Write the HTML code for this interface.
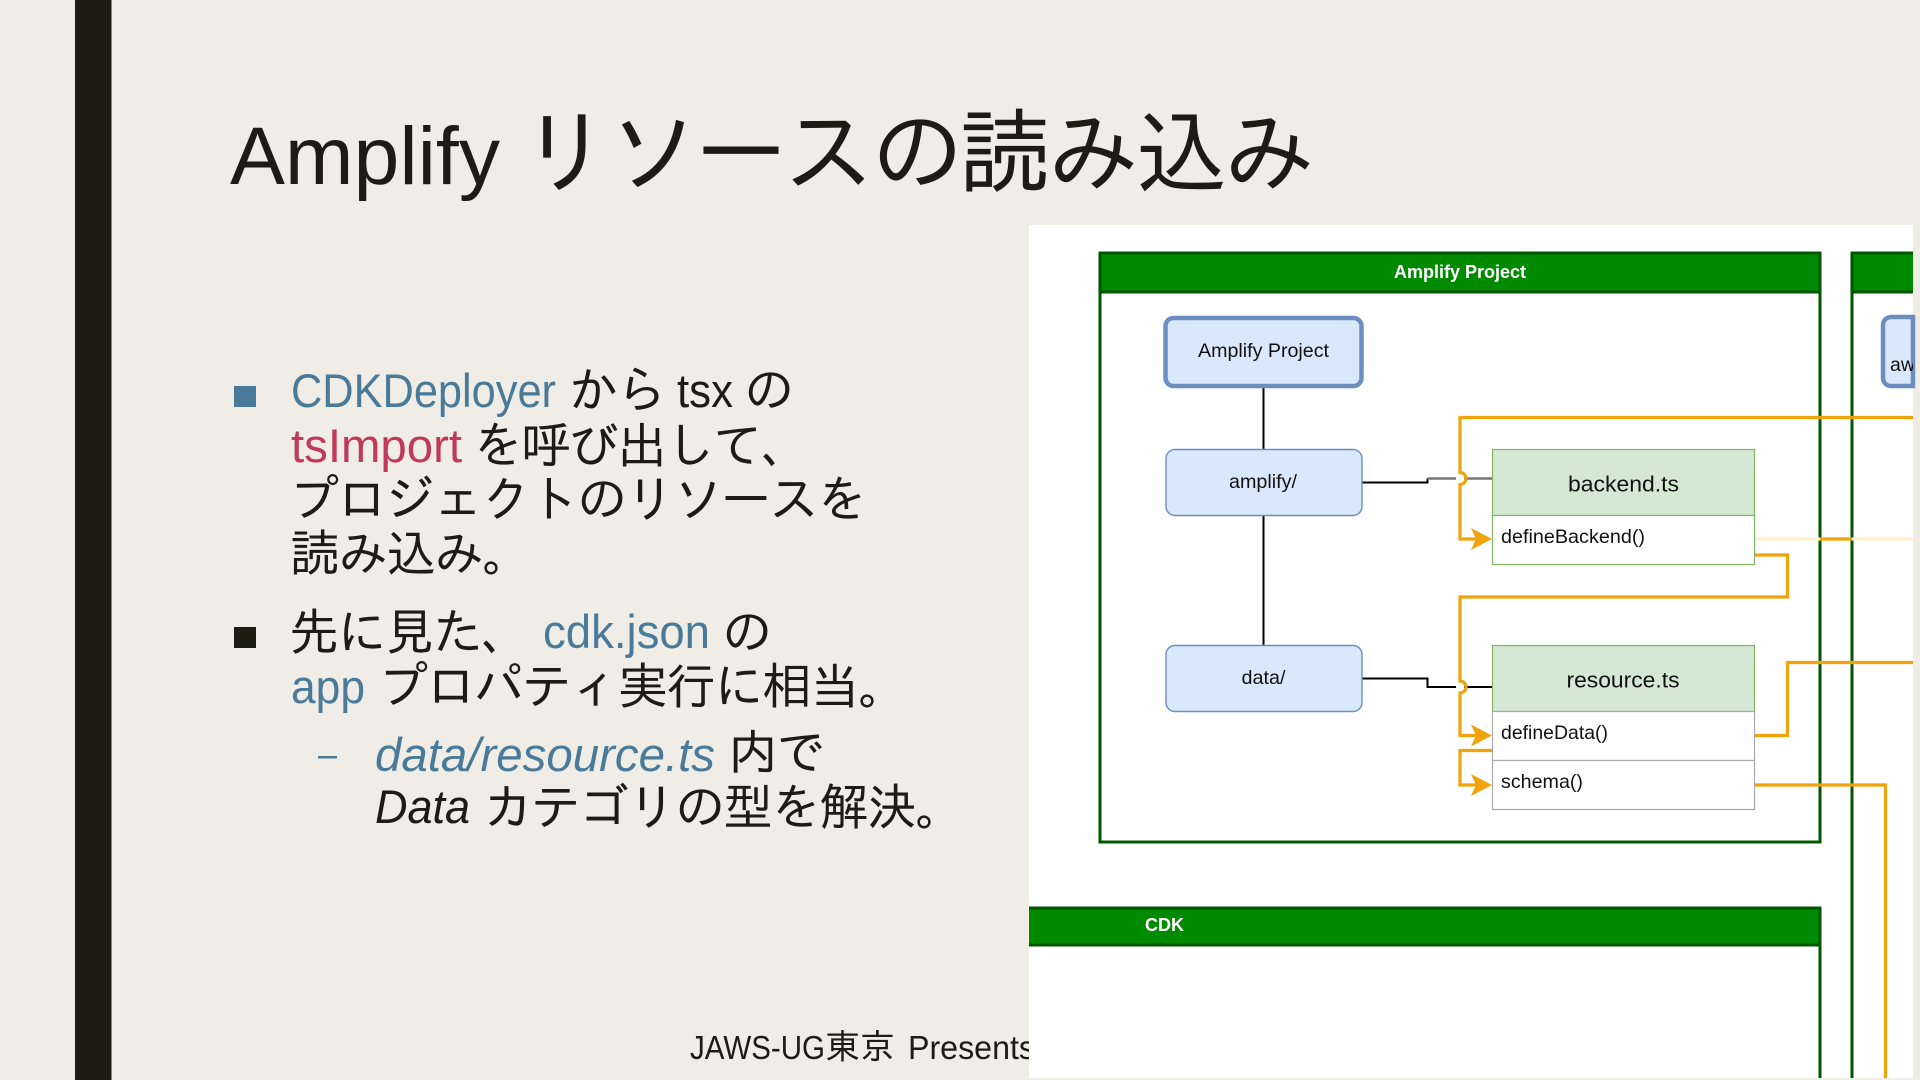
<!DOCTYPE html>
<html lang="ja">
<head>
<meta charset="utf-8">
<title>Amplify リソースの読み込み</title>
<style>
html,body{margin:0;padding:0;background:#efede6;width:1920px;height:1080px;overflow:hidden}
svg{display:block}
.s{font-family:"IPAGothic","Noto Sans CJK JP",sans-serif;fill:#1d1c12;font-size:50px;letter-spacing:-2px}
.l{font-family:"Liberation Sans","Noto Sans CJK JP",sans-serif;fill:#1d1c12}
.b{fill:#4a7a9a}
.r{fill:#c03a57}
.i{font-style:italic}
.d{font-family:"Liberation Sans",sans-serif;fill:#111}
.h{font-family:"Liberation Sans",sans-serif;font-weight:bold;fill:#fff}
</style>
</head>
<body>
<svg width="1920" height="1080" viewBox="0 0 1920 1080" xmlns="http://www.w3.org/2000/svg">
<rect width="1920" height="1080" fill="#efede6"/>
<rect x="75" y="0" width="36.5" height="1080" fill="#1d1c10"/>

<!-- title -->
<text class="l" x="230" y="184" font-size="82" textLength="270" lengthAdjust="spacingAndGlyphs">Amplify</text>
<text class="s" x="519" y="185" style="font-size:92px;letter-spacing:-4px">リソースの読み込み</text>

<!-- body -->
<rect x="234" y="386" width="22" height="21" fill="#4a7a9a"/>
<text class="l b" x="291" y="407" font-size="47" textLength="265" lengthAdjust="spacingAndGlyphs">CDKDeployer</text>
<text class="s" x="568" y="408">から</text>
<text class="l" x="677" y="407" font-size="47" textLength="56" lengthAdjust="spacingAndGlyphs">tsx</text>
<text class="s" x="744" y="408">の</text>

<text class="l r" x="291" y="462" font-size="47" textLength="171" lengthAdjust="spacingAndGlyphs">tsImport</text>
<text class="s" x="473" y="463">を呼び出して、</text>
<text class="s" x="289" y="517">プロジェクトのリソースを</text>
<text class="s" x="290" y="571">読み込み。</text>

<rect x="234" y="627" width="22" height="21" fill="#1d1c10"/>
<text class="s" x="289" y="650">先に見た、</text>
<text class="l b" x="543" y="648" font-size="47" textLength="167" lengthAdjust="spacingAndGlyphs">cdk.json</text>
<text class="s" x="722" y="650">の</text>
<text class="l b" x="291" y="703" font-size="47" textLength="74" lengthAdjust="spacingAndGlyphs">app</text>
<text class="s" x="378" y="704">プロパティ実行に相当。</text>

<rect x="318" y="756" width="19" height="2.5" fill="#4a7a9a"/>
<text class="l b i" x="375" y="771" font-size="47" textLength="340" lengthAdjust="spacingAndGlyphs">data/resource.ts</text>
<text class="s" x="728" y="770">内で</text>
<text class="l i" x="375" y="823" font-size="47" textLength="95" lengthAdjust="spacingAndGlyphs">Data</text>
<text class="s" x="483" y="825">カテゴリの型を解決。</text>

<!-- footer -->
<text class="l" x="690" y="1059" font-size="33" textLength="135" lengthAdjust="spacingAndGlyphs">JAWS-UG</text>
<text class="s" x="825" y="1059" style="font-size:35px;letter-spacing:0">東京</text>
<text class="l" x="908" y="1059" font-size="33" textLength="127" lengthAdjust="spacingAndGlyphs">Presents</text>

<!-- diagram panel -->
<rect x="1029" y="225" width="884" height="853" fill="#fff"/>
<!-- containers -->
<rect x="1100" y="253" width="720" height="589" fill="#fff" stroke="#005700" stroke-width="3"/>
<rect x="1100" y="253" width="720" height="39" fill="#008a00" stroke="#005700" stroke-width="3"/>
<path d="M1913 253H1852V1078" fill="none" stroke="#005700" stroke-width="3"/>
<path d="M1853.5 254.5H1913V291H1853.5Z" fill="#008a00"/>
<path d="M1852 292H1913" stroke="#005700" stroke-width="3"/>
<path d="M1029 908H1820V1078" fill="none" stroke="#005700" stroke-width="3"/>
<path d="M1029 909.5H1818.5V944H1029Z" fill="#008a00"/>
<path d="M1029 945H1820" stroke="#005700" stroke-width="3"/>

<text class="h" x="1394" y="278" font-size="18" textLength="132" lengthAdjust="spacingAndGlyphs">Amplify Project</text>
<text class="h" x="1145" y="931" font-size="18" textLength="39" lengthAdjust="spacingAndGlyphs">CDK</text>

<!-- black connectors -->
<path d="M1263.5 387V449M1263.5 515V645" fill="none" stroke="#000" stroke-width="2"/>
<path d="M1362 482.5H1427.5V478.5" fill="none" stroke="#000" stroke-width="2"/>
<path d="M1427.5 478.5H1456M1464 478.5H1492" fill="none" stroke="#777" stroke-width="2.4"/>
<path d="M1362 678.5H1427.5V687H1456M1464 687H1492" fill="none" stroke="#000" stroke-width="2"/>

<!-- nodes -->
<rect x="1165.5" y="318" width="196" height="68" rx="8" fill="#dae8fc" stroke="#6c8ebf" stroke-width="4.5"/>
<rect x="1166" y="449.5" width="196" height="66" rx="9" fill="#dae8fc" stroke="#6c8ebf" stroke-width="1.4"/>
<rect x="1166" y="645.5" width="196" height="66" rx="9" fill="#dae8fc" stroke="#6c8ebf" stroke-width="1.4"/>
<path d="M1913 317H1891A8 8 0 0 0 1883 325V378A8 8 0 0 0 1891 386H1913Z" fill="#dae8fc" stroke="#6c8ebf" stroke-width="4.5"/>

<rect x="1492.5" y="449.5" width="262" height="66" fill="#d5e8d4" stroke="#82b366" stroke-width="1.2"/>
<rect x="1492.5" y="515.5" width="262" height="49" fill="#fff" stroke="#82b366" stroke-width="1.2"/>
<rect x="1492.5" y="645.5" width="262" height="66" fill="#d5e8d4" stroke="#82b366" stroke-width="1.2"/>
<rect x="1492.5" y="711.5" width="262" height="49" fill="#fff" stroke="#aaa" stroke-width="1.2"/>
<rect x="1492.5" y="760.5" width="262" height="49" fill="#fff" stroke="#aaa" stroke-width="1.2"/>

<!-- orange connectors -->
<g fill="none" stroke="#f0a30a" stroke-width="3.2">
  <path d="M1913 417.5H1460V472.5A6 6 0 0 1 1460 484.5V539H1476"/>
  <path d="M1755 555H1787.5V597H1460V681A6 6 0 0 1 1460 693V735.5H1476"/>
  <path d="M1755 735.5H1787.5V662.5H1913"/>
  <path d="M1755 785H1885.5V1078"/>
  <path d="M1492 750.5H1460V785H1476"/>
  <path d="M1820 539H1852"/>
  <path d="M1755 539H1820M1852 539H1913" stroke="#fdf0cf"/>
</g>
<g fill="#f0a30a">
  <path d="M1492 539L1471 528L1476 539L1471 550Z"/>
  <path d="M1492 735.5L1471 724.5L1476 735.5L1471 746.5Z"/>
  <path d="M1492 785L1471 774L1476 785L1471 796Z"/>
</g>

<!-- diagram labels -->
<text class="d" x="1198" y="357" font-size="19.5" textLength="131" lengthAdjust="spacingAndGlyphs">Amplify Project</text>
<text class="d" x="1229" y="488" font-size="19.5" textLength="68" lengthAdjust="spacingAndGlyphs">amplify/</text>
<text class="d" x="1241.5" y="684" font-size="19.5" textLength="44" lengthAdjust="spacingAndGlyphs">data/</text>
<text class="d" x="1568" y="491.5" font-size="22" textLength="111" lengthAdjust="spacingAndGlyphs">backend.ts</text>
<text class="d" x="1566.5" y="687.5" font-size="22" textLength="113" lengthAdjust="spacingAndGlyphs">resource.ts</text>
<text class="d" x="1501" y="543" font-size="19.5" textLength="144" lengthAdjust="spacingAndGlyphs">defineBackend()</text>
<text class="d" x="1501" y="739" font-size="19.5" textLength="107" lengthAdjust="spacingAndGlyphs">defineData()</text>
<text class="d" x="1501" y="788" font-size="19.5" textLength="82" lengthAdjust="spacingAndGlyphs">schema()</text>
<svg x="1029" y="225" width="884" height="853" viewBox="1029 225 884 853">
  <text class="d" x="1890" y="371" font-size="19.5">aw</text>
</svg>
</svg>
</body>
</html>
